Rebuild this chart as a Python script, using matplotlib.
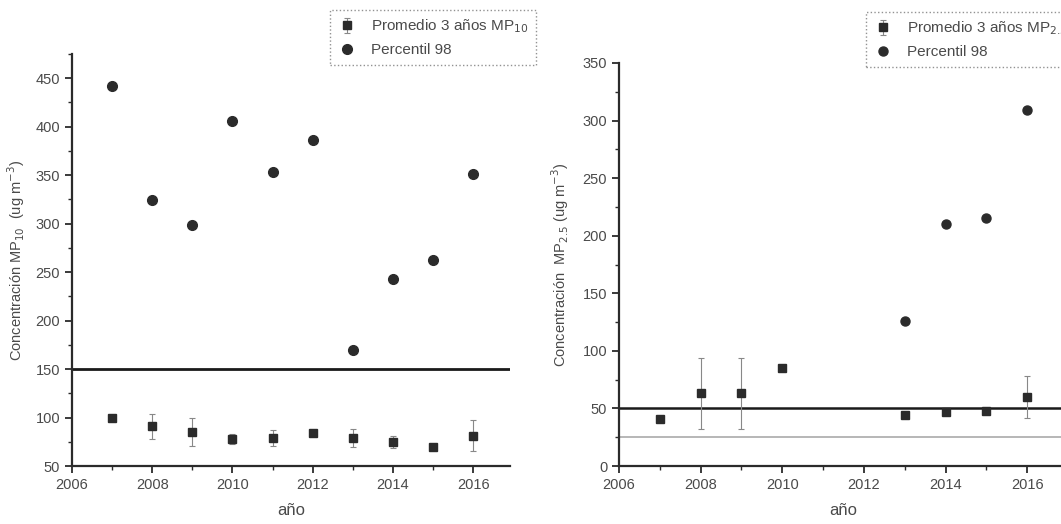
import numpy as np
import matplotlib
matplotlib.use("Agg")
import matplotlib.pyplot as plt
from matplotlib.ticker import MultipleLocator

plt.rcParams['font.family'] = ['Liberation Sans', 'DejaVu Sans']

# panel izquierdo: MP10
years10 = [2007, 2008, 2009, 2010, 2011, 2012, 2013, 2014, 2015, 2016]
prom10 = [100, 91, 85, 78, 79, 84, 79, 75, 70, 81]
prom10_err = [2, 13, 14, 5, 8, 3, 9, 6, 2, 16]
p98_10 = [442, 324, 299, 406, 353, 386, 170, 243, 263, 351]
norma10 = 150

# panel derecho: MP2.5
years25 = [2007, 2008, 2009, 2010, 2013, 2014, 2015, 2016]
prom25 = [41, 63, 63, 85, 44, 47, 48, 60]
prom25_err = [0, 31, 31, 0, 0, 0, 0, 18]
years25_p98 = [2013, 2014, 2015, 2016]
p98_25 = [126, 210, 215, 309]
norma25 = 50
norma25_b = 25

ink = '#2b2b2b'
txt = '#4a4a4a'

fig = plt.figure(figsize=(10.61, 5.24), dpi=100)
ax1 = fig.add_axes([72/1061, 58/524, 438/1061, 412/524])
ax2 = fig.add_axes([619/1061, 58/524, 449/1061, 403/524])


def style(ax):
    for s in ['top', 'right']:
        ax.spines[s].set_visible(False)
    for s in ['left', 'bottom']:
        ax.spines[s].set_linewidth(1.6)
        ax.spines[s].set_color(ink)
    ax.xaxis.set_major_locator(MultipleLocator(2))
    ax.xaxis.set_minor_locator(MultipleLocator(1))
    ax.yaxis.set_major_locator(MultipleLocator(50))
    ax.yaxis.set_minor_locator(MultipleLocator(25))
    ax.tick_params(which='major', length=5, width=1.3, color=ink,
                   labelsize=10.5, labelcolor=txt, direction='out')
    ax.tick_params(which='minor', length=3, width=1.0, color=ink, direction='out')
    ax.set_xlabel('año', fontsize=12, color=txt, labelpad=8)


# izquierdo
ax1.errorbar(years10, prom10, yerr=prom10_err, fmt='s', color=ink, ms=6,
             ecolor='#888888', elinewidth=0.8, capsize=2.5, capthick=0.8,
             label='Promedio 3 años MP$_{10}$', zorder=3)
ax1.plot(years10, p98_10, 'o', color=ink, ms=7, label='Percentil 98', zorder=3)
ax1.axhline(norma10, color='#1a1a1a', lw=2)
ax1.set_xlim(2006, 2016.92)
ax1.set_ylim(50, 475)
style(ax1)
ax1.set_ylabel('Concentración MP$_{10}$  (ug m$^{-3}$)', fontsize=10.5, color=txt, labelpad=6)

# derecho
ax2.errorbar(years25, prom25, yerr=prom25_err, fmt='s', color=ink, ms=6,
             ecolor='#888888', elinewidth=0.8, capsize=2.5, capthick=0.8,
             label='Promedio 3 años MP$_{2.5}$', zorder=3)
ax2.plot(years25_p98, p98_25, 'o', color=ink, ms=6.5, label='Percentil 98', zorder=3)
ax2.axhline(norma25, color='#1a1a1a', lw=1.8)
ax2.axhline(norma25_b, color='#aaaaaa', lw=1.2)
ax2.set_xlim(2006, 2017)
ax2.set_ylim(0, 350)
style(ax2)
ax2.set_ylabel('Concentración  MP$_{2.5}$ (ug m$^{-3}$)', fontsize=10.5, color=txt, labelpad=8)

for ax, (x0, y0) in [(ax1, (330, 10)), (ax2, (866, 12))]:
    h, l = ax.get_legend_handles_labels()
    order = [i for i, s in enumerate(l) if s.startswith('Promedio')] + \
            [i for i, s in enumerate(l) if not s.startswith('Promedio')]
    leg = fig.legend([h[i] for i in order], [l[i] for i in order], loc='upper left',
                     bbox_to_anchor=(x0/1061, 1 - y0/524),
                     fancybox=False, fontsize=11, labelcolor=txt, handletextpad=1.0,
                     borderpad=0.5, labelspacing=0.5, handlelength=1.2, borderaxespad=0)
    fr = leg.get_frame()
    fr.set_edgecolor('#777777')
    fr.set_linestyle(':')
    fr.set_linewidth(1.0)

fig.savefig('out.png', dpi=100)
